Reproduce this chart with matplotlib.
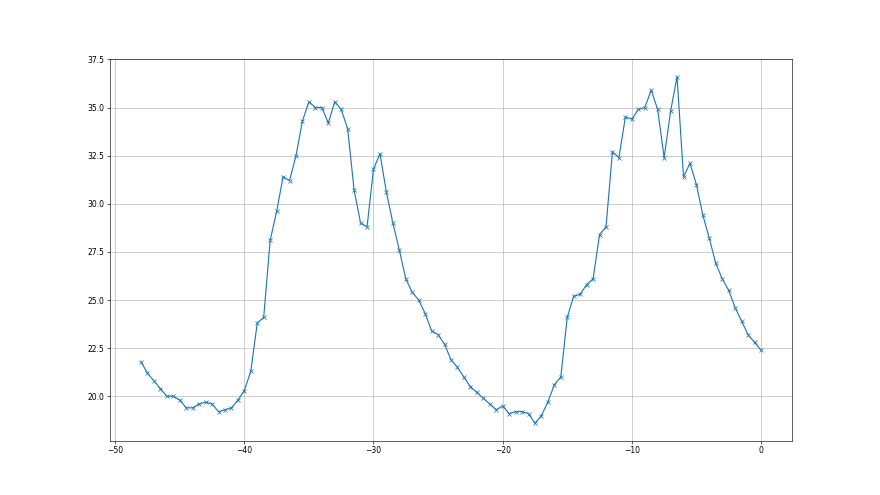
import numpy as np
import matplotlib
matplotlib.use("Agg")
import matplotlib.pyplot as plt

# hours relative to now, half-hour steps
hours = np.arange(-48, 0.5, 0.5)

values = [
    21.8, 21.2, 20.8, 20.4, 20.0, 20.0, 19.8, 19.4, 19.4, 19.6,
    19.7, 19.6, 19.2, 19.3, 19.4, 19.8, 20.3, 21.3, 23.8, 24.1,
    28.1, 29.6, 31.4, 31.2, 32.5, 34.3, 35.3, 35.0, 35.0, 34.2,
    35.3, 34.9, 33.9, 30.7, 29.0, 28.8, 31.8, 32.6, 30.6, 29.0,
    27.6, 26.1, 25.4, 25.0, 24.3, 23.4, 23.2, 22.7, 21.9, 21.5,
    21.0, 20.5, 20.2, 19.9, 19.6, 19.3, 19.5, 19.1, 19.2, 19.2,
    19.1, 18.6, 19.0, 19.7, 20.6, 21.0, 24.1, 25.2, 25.3, 25.8,
    26.1, 28.4, 28.8, 32.7, 32.4, 34.5, 34.4, 34.9, 35.0, 35.9,
    34.9, 32.4, 34.8, 36.6, 31.4, 32.1, 31.0, 29.4, 28.2, 26.9,
    26.1, 25.5, 24.6, 23.9, 23.2, 22.8, 22.4,
]

fig = plt.figure(figsize=(16, 9), dpi=55)
plt.plot(hours, values, marker="x")
plt.grid(True)
plt.savefig("out.png", dpi=55)
